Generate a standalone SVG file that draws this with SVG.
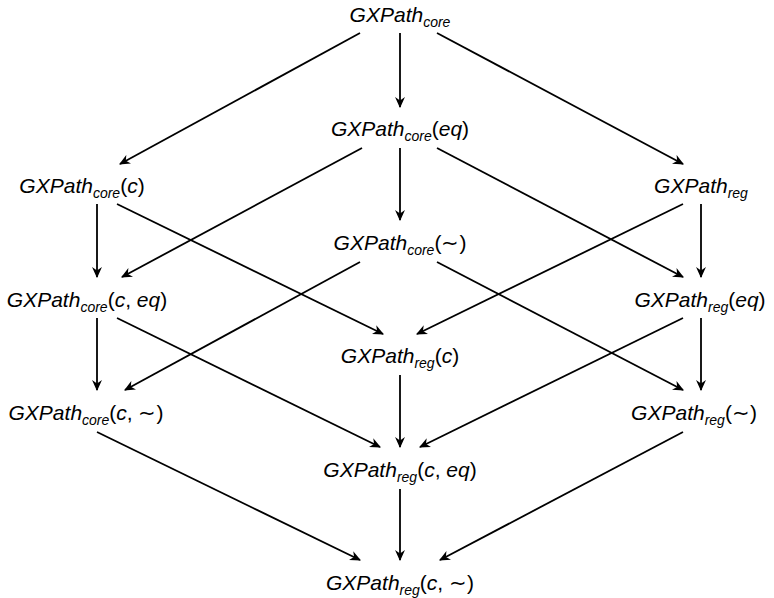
<svg xmlns="http://www.w3.org/2000/svg" width="774" height="598" viewBox="0 0 774 598">
<defs>
<marker id="ah" viewBox="0 0 10 10" refX="9" refY="5" markerWidth="11" markerHeight="11" markerUnits="userSpaceOnUse" orient="auto">
<path d="M0,0.5 L10,5 L0,9.5 L3,5 Z" fill="#000"/>
</marker>
<style>
text{font-family:"Liberation Sans",Arial,sans-serif;font-size:21px;font-style:italic;fill:#000;text-anchor:middle}
.s{font-size:14px}
.u{font-style:normal}
#edges line{stroke:#000;stroke-width:1.8;marker-end:url(#ah)}
</style>
</defs>
<rect width="774" height="598" fill="#fff"/>
<g id="edges">
<line x1="360" y1="33" x2="120" y2="164"/>
<line x1="400" y1="33" x2="400" y2="107"/>
<line x1="437" y1="33" x2="683" y2="164"/>
<line x1="362" y1="148" x2="122" y2="277"/>
<line x1="400" y1="148" x2="400" y2="220"/>
<line x1="437" y1="148" x2="683" y2="277"/>
<line x1="97" y1="204" x2="97" y2="277"/>
<line x1="117" y1="204" x2="383" y2="334"/>
<line x1="683" y1="204" x2="417" y2="334"/>
<line x1="701" y1="204" x2="701" y2="277"/>
<line x1="360" y1="262" x2="125" y2="390"/>
<line x1="437" y1="262" x2="683" y2="390"/>
<line x1="97" y1="318" x2="97" y2="390"/>
<line x1="117" y1="318" x2="380" y2="447"/>
<line x1="683" y1="318" x2="420" y2="447"/>
<line x1="701" y1="318" x2="701" y2="390"/>
<line x1="400" y1="375" x2="400" y2="447"/>
<line x1="97" y1="432" x2="360" y2="560"/>
<line x1="400" y1="489" x2="400" y2="560"/>
<line x1="683" y1="432" x2="440" y2="560"/>
</g>
<g id="n1"><text x="400" y="22">GXPath<tspan class="s" dy="5">core</tspan></text></g>
<g id="n2"><text x="400" y="136">GXPath<tspan class="s" dy="5">core</tspan><tspan class="u" dy="-5">(</tspan>eq<tspan class="u">)</tspan></text></g>
<g id="n3"><text x="82" y="193">GXPath<tspan class="s" dy="5">core</tspan><tspan class="u" dy="-5">(</tspan>c<tspan class="u">)</tspan></text></g>
<g id="n4"><text x="701" y="193">GXPath<tspan class="s" dy="5">reg</tspan></text></g>
<g id="n5"><text x="400" y="250">GXPath<tspan class="s" dy="5">core</tspan><tspan class="u" dy="-5">(∼)</tspan></text></g>
<g id="n6"><text x="87" y="307">GXPath<tspan class="s" dy="5">core</tspan><tspan class="u" dy="-5">(</tspan>c<tspan class="u">, </tspan>eq<tspan class="u">)</tspan></text></g>
<g id="n7"><text x="700" y="307">GXPath<tspan class="s" dy="5">reg</tspan><tspan class="u" dy="-5">(</tspan>eq<tspan class="u">)</tspan></text></g>
<g id="n8"><text x="400" y="363">GXPath<tspan class="s" dy="5">reg</tspan><tspan class="u" dy="-5">(</tspan>c<tspan class="u">)</tspan></text></g>
<g id="n9"><text x="86" y="420">GXPath<tspan class="s" dy="5">core</tspan><tspan class="u" dy="-5">(</tspan>c<tspan class="u">, ∼)</tspan></text></g>
<g id="n10"><text x="694" y="420">GXPath<tspan class="s" dy="5">reg</tspan><tspan class="u" dy="-5">(∼)</tspan></text></g>
<g id="n11"><text x="400" y="477">GXPath<tspan class="s" dy="5">reg</tspan><tspan class="u" dy="-5">(</tspan>c<tspan class="u">, </tspan>eq<tspan class="u">)</tspan></text></g>
<g id="n12"><text x="400" y="590">GXPath<tspan class="s" dy="5">reg</tspan><tspan class="u" dy="-5">(</tspan>c<tspan class="u">, ∼)</tspan></text></g>
</svg>
